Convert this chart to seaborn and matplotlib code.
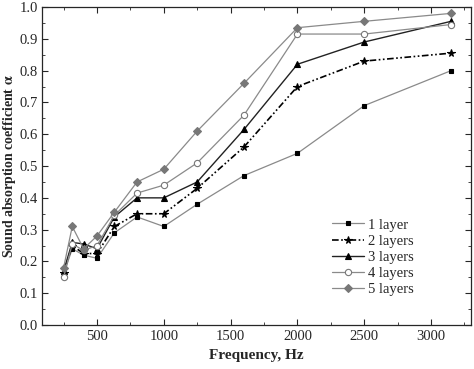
import matplotlib
matplotlib.use('Agg')
import matplotlib.pyplot as plt
import seaborn as sns
from matplotlib.ticker import MultipleLocator, FormatStrFormatter

# 1/3 octave band centre frequencies, Hz
freq = [250, 315, 400, 500, 630, 800, 1000, 1250, 1600, 2000, 2500, 3150]

# sound absorption coefficient for each number of layers
layer1 = [0.16, 0.24, 0.22, 0.21, 0.29, 0.34, 0.31, 0.38, 0.47, 0.54, 0.69, 0.80]
layer2 = [0.165, 0.25, 0.225, 0.225, 0.31, 0.35, 0.35, 0.43, 0.56, 0.75, 0.83, 0.855]
layer3 = [0.17, 0.26, 0.255, 0.24, 0.34, 0.40, 0.40, 0.45, 0.615, 0.82, 0.89, 0.955]
layer4 = [0.15, 0.255, 0.235, 0.25, 0.345, 0.415, 0.44, 0.51, 0.66, 0.915, 0.915, 0.945]
layer5 = [0.18, 0.31, 0.24, 0.28, 0.355, 0.45, 0.49, 0.61, 0.76, 0.935, 0.955, 0.98]

labels = ['1 layer', '2 layers', '3 layers', '4 layers', '5 layers']

sns.set_style('ticks')
plt.rcParams['font.family'] = ['Liberation Serif', 'DejaVu Serif']
plt.rcParams['mathtext.fontset'] = 'stix'

fig = plt.figure(figsize=(4.74, 3.69), dpi=100)
ax = fig.add_axes([0.089, 0.119, 0.905, 0.862])

styles = [
    dict(color='#8a8a8a', lw=0.9, ls='-', marker='s', ms=3.5, mfc='black', mec='black'),
    dict(color='black', lw=1.2, ls=(0, (4, 1.5, 1, 1.5, 1, 1.5)), marker='*', ms=5.5, mfc='black', mec='black'),
    dict(color='#222222', lw=1.0, ls='-', marker='^', ms=4.5, mfc='black', mec='black'),
    dict(color='#8a8a8a', lw=0.9, ls='-', marker='o', ms=4.5, mfc='white', mec='#777777'),
    dict(color='#8a8a8a', lw=0.9, ls='-', marker='D', ms=4, mfc='#777777', mec='#777777'),
]

for vals, lab, st in zip([layer1, layer2, layer3, layer4, layer5], labels, styles):
    sns.lineplot(x=freq, y=vals, ax=ax, label=lab, color=st['color'], linewidth=st['lw'],
                 linestyle=st['ls'], marker=st['marker'], markersize=st['ms'],
                 markerfacecolor=st['mfc'], markeredgecolor=st['mec'], markeredgewidth=0.8)

ax.set_xlim(90, 3300)
ax.set_ylim(0, 1.0)
ax.xaxis.set_major_locator(MultipleLocator(500))
ax.xaxis.set_minor_locator(MultipleLocator(250))
ax.yaxis.set_major_locator(MultipleLocator(0.1))
ax.yaxis.set_minor_locator(MultipleLocator(0.05))
ax.yaxis.set_major_formatter(FormatStrFormatter('%.1f'))
ax.tick_params(which='both', direction='in', top=True, right=True, labelsize=10.5)
ax.tick_params(which='major', length=4)
ax.tick_params(which='minor', length=2)
ax.tick_params(axis='y', pad=3)
for sp in ax.spines.values():
    sp.set_linewidth(0.9)

ax.set_xlabel('Frequency, Hz', fontsize=11, fontweight='bold')
ax.set_ylabel(r'Sound absorption coefficient $\mathbf{\alpha}$', fontsize=10, fontweight='bold')
ax.yaxis.set_label_coords(-0.057, 0.5)

ax.legend(loc='lower right', bbox_to_anchor=(0.897, 0.05), frameon=False, fontsize=10.5,
          handlelength=2.2, labelspacing=0.2, handletextpad=0.3)

fig.savefig('out.png', dpi=100)
